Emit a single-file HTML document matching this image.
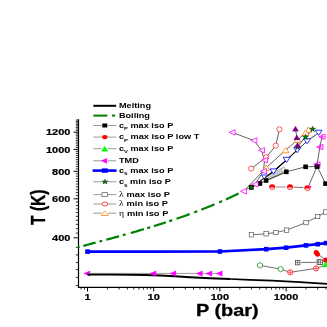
<!DOCTYPE html>
<html><head><meta charset="utf-8"><title>Phase diagram</title>
<style>
html,body{margin:0;padding:0;background:#fff;}
body{width:327px;height:327px;overflow:hidden;}
svg{display:block;will-change:transform;font-family:"Liberation Sans",sans-serif;}
</style></head><body>
<svg width="327" height="327" viewBox="0 0 327 327">
<rect x="0" y="0" width="327" height="327" fill="#fff"/>
<line x1="78.5" y1="119.2" x2="78.5" y2="288.0" stroke="#000" stroke-width="1.2"/>
<line x1="77.9" y1="287.4" x2="327" y2="287.4" stroke="#000" stroke-width="1.2"/>
<line x1="73.60" y1="237.80" x2="78.5" y2="237.80" stroke="#000" stroke-width="1.0"/>
<line x1="75.80" y1="233.11" x2="78.5" y2="233.11" stroke="#000" stroke-width="0.8"/>
<line x1="75.80" y1="228.63" x2="78.5" y2="228.63" stroke="#000" stroke-width="0.8"/>
<line x1="75.80" y1="224.36" x2="78.5" y2="224.36" stroke="#000" stroke-width="0.8"/>
<line x1="75.80" y1="220.26" x2="78.5" y2="220.26" stroke="#000" stroke-width="0.8"/>
<line x1="75.80" y1="216.34" x2="78.5" y2="216.34" stroke="#000" stroke-width="0.8"/>
<line x1="75.80" y1="212.56" x2="78.5" y2="212.56" stroke="#000" stroke-width="0.8"/>
<line x1="75.80" y1="208.93" x2="78.5" y2="208.93" stroke="#000" stroke-width="0.8"/>
<line x1="75.80" y1="205.44" x2="78.5" y2="205.44" stroke="#000" stroke-width="0.8"/>
<line x1="75.80" y1="202.06" x2="78.5" y2="202.06" stroke="#000" stroke-width="0.8"/>
<line x1="73.60" y1="198.80" x2="78.5" y2="198.80" stroke="#000" stroke-width="1.0"/>
<line x1="75.80" y1="195.67" x2="78.5" y2="195.67" stroke="#000" stroke-width="0.8"/>
<line x1="75.80" y1="192.63" x2="78.5" y2="192.63" stroke="#000" stroke-width="0.8"/>
<line x1="75.80" y1="189.69" x2="78.5" y2="189.69" stroke="#000" stroke-width="0.8"/>
<line x1="75.80" y1="186.84" x2="78.5" y2="186.84" stroke="#000" stroke-width="0.8"/>
<line x1="75.80" y1="184.06" x2="78.5" y2="184.06" stroke="#000" stroke-width="0.8"/>
<line x1="75.80" y1="181.37" x2="78.5" y2="181.37" stroke="#000" stroke-width="0.8"/>
<line x1="75.80" y1="178.75" x2="78.5" y2="178.75" stroke="#000" stroke-width="0.8"/>
<line x1="75.80" y1="176.20" x2="78.5" y2="176.20" stroke="#000" stroke-width="0.8"/>
<line x1="75.80" y1="173.72" x2="78.5" y2="173.72" stroke="#000" stroke-width="0.8"/>
<line x1="73.60" y1="171.30" x2="78.5" y2="171.30" stroke="#000" stroke-width="1.0"/>
<line x1="75.80" y1="168.88" x2="78.5" y2="168.88" stroke="#000" stroke-width="0.8"/>
<line x1="75.80" y1="166.51" x2="78.5" y2="166.51" stroke="#000" stroke-width="0.8"/>
<line x1="75.80" y1="164.20" x2="78.5" y2="164.20" stroke="#000" stroke-width="0.8"/>
<line x1="75.80" y1="161.95" x2="78.5" y2="161.95" stroke="#000" stroke-width="0.8"/>
<line x1="75.80" y1="159.74" x2="78.5" y2="159.74" stroke="#000" stroke-width="0.8"/>
<line x1="75.80" y1="157.58" x2="78.5" y2="157.58" stroke="#000" stroke-width="0.8"/>
<line x1="75.80" y1="155.47" x2="78.5" y2="155.47" stroke="#000" stroke-width="0.8"/>
<line x1="75.80" y1="153.41" x2="78.5" y2="153.41" stroke="#000" stroke-width="0.8"/>
<line x1="75.80" y1="151.38" x2="78.5" y2="151.38" stroke="#000" stroke-width="0.8"/>
<line x1="73.60" y1="149.40" x2="78.5" y2="149.40" stroke="#000" stroke-width="1.0"/>
<line x1="75.80" y1="147.53" x2="78.5" y2="147.53" stroke="#000" stroke-width="0.8"/>
<line x1="75.80" y1="145.70" x2="78.5" y2="145.70" stroke="#000" stroke-width="0.8"/>
<line x1="75.80" y1="143.90" x2="78.5" y2="143.90" stroke="#000" stroke-width="0.8"/>
<line x1="75.80" y1="142.14" x2="78.5" y2="142.14" stroke="#000" stroke-width="0.8"/>
<line x1="75.80" y1="140.41" x2="78.5" y2="140.41" stroke="#000" stroke-width="0.8"/>
<line x1="75.80" y1="138.71" x2="78.5" y2="138.71" stroke="#000" stroke-width="0.8"/>
<line x1="75.80" y1="137.04" x2="78.5" y2="137.04" stroke="#000" stroke-width="0.8"/>
<line x1="75.80" y1="135.40" x2="78.5" y2="135.40" stroke="#000" stroke-width="0.8"/>
<line x1="75.80" y1="133.79" x2="78.5" y2="133.79" stroke="#000" stroke-width="0.8"/>
<line x1="73.60" y1="132.20" x2="78.5" y2="132.20" stroke="#000" stroke-width="1.0"/>
<line x1="75.80" y1="130.59" x2="78.5" y2="130.59" stroke="#000" stroke-width="0.8"/>
<line x1="75.80" y1="129.01" x2="78.5" y2="129.01" stroke="#000" stroke-width="0.8"/>
<line x1="75.80" y1="127.45" x2="78.5" y2="127.45" stroke="#000" stroke-width="0.8"/>
<line x1="75.80" y1="125.92" x2="78.5" y2="125.92" stroke="#000" stroke-width="0.8"/>
<line x1="75.80" y1="124.41" x2="78.5" y2="124.41" stroke="#000" stroke-width="0.8"/>
<line x1="75.80" y1="122.93" x2="78.5" y2="122.93" stroke="#000" stroke-width="0.8"/>
<line x1="75.80" y1="121.46" x2="78.5" y2="121.46" stroke="#000" stroke-width="0.8"/>
<line x1="75.80" y1="120.02" x2="78.5" y2="120.02" stroke="#000" stroke-width="0.8"/>
<line x1="75.80" y1="247.30" x2="78.5" y2="247.30" stroke="#000" stroke-width="0.8"/>
<line x1="75.80" y1="254.90" x2="78.5" y2="254.90" stroke="#000" stroke-width="0.8"/>
<line x1="75.80" y1="262.50" x2="78.5" y2="262.50" stroke="#000" stroke-width="0.8"/>
<line x1="75.80" y1="269.60" x2="78.5" y2="269.60" stroke="#000" stroke-width="0.8"/>
<line x1="75.80" y1="277.30" x2="78.5" y2="277.30" stroke="#000" stroke-width="0.8"/>
<line x1="75.80" y1="285.60" x2="78.5" y2="285.60" stroke="#000" stroke-width="0.8"/>
<line x1="87.50" y1="287.4" x2="87.50" y2="291.40" stroke="#000" stroke-width="1.0"/>
<line x1="107.43" y1="287.4" x2="107.43" y2="289.60" stroke="#000" stroke-width="0.8"/>
<line x1="119.09" y1="287.4" x2="119.09" y2="289.60" stroke="#000" stroke-width="0.8"/>
<line x1="127.36" y1="287.4" x2="127.36" y2="289.60" stroke="#000" stroke-width="0.8"/>
<line x1="133.77" y1="287.4" x2="133.77" y2="289.60" stroke="#000" stroke-width="0.8"/>
<line x1="139.01" y1="287.4" x2="139.01" y2="289.60" stroke="#000" stroke-width="0.8"/>
<line x1="143.45" y1="287.4" x2="143.45" y2="289.60" stroke="#000" stroke-width="0.8"/>
<line x1="147.28" y1="287.4" x2="147.28" y2="289.60" stroke="#000" stroke-width="0.8"/>
<line x1="150.67" y1="287.4" x2="150.67" y2="289.60" stroke="#000" stroke-width="0.8"/>
<line x1="153.70" y1="287.4" x2="153.70" y2="291.40" stroke="#000" stroke-width="1.0"/>
<line x1="173.63" y1="287.4" x2="173.63" y2="289.60" stroke="#000" stroke-width="0.8"/>
<line x1="185.29" y1="287.4" x2="185.29" y2="289.60" stroke="#000" stroke-width="0.8"/>
<line x1="193.56" y1="287.4" x2="193.56" y2="289.60" stroke="#000" stroke-width="0.8"/>
<line x1="199.97" y1="287.4" x2="199.97" y2="289.60" stroke="#000" stroke-width="0.8"/>
<line x1="205.21" y1="287.4" x2="205.21" y2="289.60" stroke="#000" stroke-width="0.8"/>
<line x1="209.65" y1="287.4" x2="209.65" y2="289.60" stroke="#000" stroke-width="0.8"/>
<line x1="213.48" y1="287.4" x2="213.48" y2="289.60" stroke="#000" stroke-width="0.8"/>
<line x1="216.87" y1="287.4" x2="216.87" y2="289.60" stroke="#000" stroke-width="0.8"/>
<line x1="219.90" y1="287.4" x2="219.90" y2="291.40" stroke="#000" stroke-width="1.0"/>
<line x1="239.83" y1="287.4" x2="239.83" y2="289.60" stroke="#000" stroke-width="0.8"/>
<line x1="251.49" y1="287.4" x2="251.49" y2="289.60" stroke="#000" stroke-width="0.8"/>
<line x1="259.76" y1="287.4" x2="259.76" y2="289.60" stroke="#000" stroke-width="0.8"/>
<line x1="266.17" y1="287.4" x2="266.17" y2="289.60" stroke="#000" stroke-width="0.8"/>
<line x1="271.41" y1="287.4" x2="271.41" y2="289.60" stroke="#000" stroke-width="0.8"/>
<line x1="275.85" y1="287.4" x2="275.85" y2="289.60" stroke="#000" stroke-width="0.8"/>
<line x1="279.68" y1="287.4" x2="279.68" y2="289.60" stroke="#000" stroke-width="0.8"/>
<line x1="283.07" y1="287.4" x2="283.07" y2="289.60" stroke="#000" stroke-width="0.8"/>
<line x1="286.10" y1="287.4" x2="286.10" y2="291.40" stroke="#000" stroke-width="1.0"/>
<line x1="306.03" y1="287.4" x2="306.03" y2="289.60" stroke="#000" stroke-width="0.8"/>
<line x1="317.69" y1="287.4" x2="317.69" y2="289.60" stroke="#000" stroke-width="0.8"/>
<line x1="325.96" y1="287.4" x2="325.96" y2="289.60" stroke="#000" stroke-width="0.8"/>
<line x1="81.08" y1="287.4" x2="81.08" y2="289.60" stroke="#000" stroke-width="0.8"/>
<line x1="84.47" y1="287.4" x2="84.47" y2="289.60" stroke="#000" stroke-width="0.8"/>
<text transform="translate(70.40,241.00) scale(1.225,1)" font-size="9.0" font-weight="bold" text-anchor="end" fill="#000" stroke="#000" stroke-width="0.2">400</text>
<text transform="translate(70.40,202.00) scale(1.225,1)" font-size="9.0" font-weight="bold" text-anchor="end" fill="#000" stroke="#000" stroke-width="0.2">600</text>
<text transform="translate(70.40,174.50) scale(1.225,1)" font-size="9.0" font-weight="bold" text-anchor="end" fill="#000" stroke="#000" stroke-width="0.2">800</text>
<text transform="translate(70.40,152.60) scale(1.225,1)" font-size="9.0" font-weight="bold" text-anchor="end" fill="#000" stroke="#000" stroke-width="0.2">1000</text>
<text transform="translate(70.40,135.40) scale(1.225,1)" font-size="9.0" font-weight="bold" text-anchor="end" fill="#000" stroke="#000" stroke-width="0.2">1200</text>
<text transform="translate(87.50,300.10) scale(1.225,1)" font-size="9.0" font-weight="bold" text-anchor="middle" fill="#000" stroke="#000" stroke-width="0.2">1</text>
<text transform="translate(153.70,300.10) scale(1.225,1)" font-size="9.0" font-weight="bold" text-anchor="middle" fill="#000" stroke="#000" stroke-width="0.2">10</text>
<text transform="translate(219.90,300.10) scale(1.225,1)" font-size="9.0" font-weight="bold" text-anchor="middle" fill="#000" stroke="#000" stroke-width="0.2">100</text>
<text transform="translate(286.10,300.10) scale(1.225,1)" font-size="9.0" font-weight="bold" text-anchor="middle" fill="#000" stroke="#000" stroke-width="0.2">1000</text>
<text transform="translate(227.30,316.00) scale(1.245,1)" font-size="16.0" font-weight="bold" text-anchor="middle" fill="#000" stroke="#000" stroke-width="0.3">P (bar)</text>
<text transform="translate(44.6,207.2) rotate(-90) scale(1,1.3)" font-size="15.6" font-weight="bold" text-anchor="middle" fill="#000" stroke="#000" stroke-width="0.3">T (K)</text>
<line x1="93.4" y1="105.8" x2="116.2" y2="105.8" stroke="#000" stroke-width="2"/>
<text transform="translate(118.90,108.30) scale(1.33,1)" font-size="6.9" font-weight="bold" text-anchor="start" fill="#000" >Melting</text>
<line x1="93.4" y1="115.6" x2="107.4" y2="115.6" stroke="#008000" stroke-width="2"/>
<line x1="112.0" y1="115.6" x2="115.2" y2="115.6" stroke="#008000" stroke-width="2"/>
<text transform="translate(118.90,118.10) scale(1.33,1)" font-size="6.9" font-weight="bold" text-anchor="start" fill="#000" >Boiling</text>
<path d="M93.4,125.5H101.7M107.89999999999999,125.5H116.2" stroke="#808080" stroke-width="0.8" fill="none"/>
<rect x="102.30" y="123.50" width="5.0" height="4.0" fill="#000" stroke="none" stroke-width="0.7"/>
<text transform="translate(118.90,127.80) scale(1.33,1)" font-size="6.9" font-weight="bold" text-anchor="start" fill="#000" >c<tspan font-size="4.4" dy="2.4">P</tspan><tspan dy="-2.4"> max iso P</tspan></text>
<path d="M93.4,137.1H101.7M107.89999999999999,137.1H116.2" stroke="#808080" stroke-width="0.8" fill="none"/>
<ellipse cx="104.80" cy="137.10" rx="2.8" ry="2.15" fill="#f00" stroke="none" stroke-width="0.7"/>
<text transform="translate(118.90,139.40) scale(1.33665,1)" font-size="6.9" font-weight="bold" text-anchor="start" fill="#000" >c<tspan font-size="4.4" dy="2.4">P</tspan><tspan dy="-2.4"> max iso P low T</tspan></text>
<path d="M93.4,148.7H101.7M107.89999999999999,148.7H116.2" stroke="#808080" stroke-width="0.8" fill="none"/>
<polygon points="104.80,146.20 101.50,151.20 108.10,151.20" fill="#00ff00" stroke="#00ff00" stroke-width="0.3"/>
<text transform="translate(118.90,151.00) scale(1.33,1)" font-size="6.9" font-weight="bold" text-anchor="start" fill="#000" >c<tspan font-size="4.4" dy="2.4">V</tspan><tspan dy="-2.4"> max iso P</tspan></text>
<path d="M93.4,160.8H101.7M107.89999999999999,160.8H116.2" stroke="#808080" stroke-width="0.8" fill="none"/>
<polygon points="101.10,160.80 106.90,158.20 106.90,163.40" fill="#ff00ff" stroke="#ff00ff" stroke-width="0.3"/>
<text transform="translate(118.90,163.10) scale(1.33,1)" font-size="6.9" font-weight="bold" text-anchor="start" fill="#000" >TMD</text>
<line x1="92.60000000000001" y1="170.6" x2="116.60000000000001" y2="170.6" stroke="#0000ff" stroke-width="2.6"/>
<rect x="101.80" y="168.40" width="6.0" height="4.4" fill="#0000ff" stroke="none" stroke-width="0.7"/>
<text transform="translate(118.90,172.90) scale(1.3433000000000002,1)" font-size="6.9" font-weight="bold" text-anchor="start" fill="#000" >c<tspan font-size="4.8" dy="2.4">s</tspan><tspan dy="-2.4"> max iso P</tspan></text>
<path d="M93.4,181.8H101.7M107.89999999999999,181.8H116.2" stroke="#808080" stroke-width="0.8" fill="none"/>
<g transform="translate(105.0,181.8) scale(1.28,1)">
<polygon points="0.00,-2.70 0.67,-0.92 2.57,-0.83 1.08,0.35 1.59,2.18 0.00,1.13 -1.59,2.18 -1.08,0.35 -2.57,-0.83 -0.67,-0.92" fill="#008000" stroke="#000" stroke-width="0.3"/>
</g>
<text transform="translate(118.90,184.10) scale(1.33,1)" font-size="6.9" font-weight="bold" text-anchor="start" fill="#000" >c<tspan font-size="4.8" dy="2.4">s</tspan><tspan dy="-2.4"> min iso P</tspan></text>
<path d="M93.4,194.6H101.7M107.89999999999999,194.6H116.2" stroke="#808080" stroke-width="0.8" fill="none"/>
<rect x="102.00" y="192.70" width="5.6" height="3.8" fill="#fff" stroke="#505050" stroke-width="0.7"/>
<text transform="translate(118.90,197.00) scale(1.34995,1)" font-size="6.9" font-weight="bold" text-anchor="start" fill="#000" ><tspan font-family="Liberation Serif, serif" font-weight="normal" font-size="7.2">λ</tspan><tspan dx="0.3"> max iso P</tspan></text>
<path d="M93.4,204.0H101.7M107.89999999999999,204.0H116.2" stroke="#808080" stroke-width="0.8" fill="none"/>
<ellipse cx="104.90" cy="204.00" rx="2.9" ry="1.95" fill="#fff" stroke="#ff0000" stroke-width="0.7"/>
<text transform="translate(118.90,206.40) scale(1.34995,1)" font-size="6.9" font-weight="bold" text-anchor="start" fill="#000" ><tspan font-family="Liberation Serif, serif" font-weight="normal" font-size="7.2">λ</tspan><tspan dx="0.3"> min iso P</tspan></text>
<path d="M93.4,213.2H101.7M107.89999999999999,213.2H116.2" stroke="#808080" stroke-width="0.8" fill="none"/>
<polygon points="104.80,210.90 101.20,215.50 108.40,215.50" fill="#fff" stroke="#ff8000" stroke-width="0.7"/>
<text transform="translate(118.90,215.60) scale(1.34995,1)" font-size="6.9" font-weight="bold" text-anchor="start" fill="#000" ><tspan font-family="Liberation Serif, serif" font-weight="normal" font-size="7.2">η</tspan><tspan dx="0.3"> min iso P</tspan></text>
<polyline points="83.30,245.86 85.35,245.32 87.40,244.78 89.45,244.23 91.50,243.68 93.55,243.14 95.60,242.59" fill="none" stroke="#008000" stroke-width="2.2" />
<polyline points="106.30,239.72 108.43,239.15 110.57,238.57 112.70,237.99 114.83,237.41 116.97,236.82 119.10,236.23" fill="none" stroke="#008000" stroke-width="2.2" />
<polyline points="130.80,232.95 132.98,232.33 135.17,231.70 137.35,231.07 139.53,230.43 141.72,229.79 143.90,229.14" fill="none" stroke="#008000" stroke-width="2.2" />
<polyline points="153.90,226.11 155.90,225.49 157.90,224.86 159.90,224.23 161.90,223.59 163.90,222.95 165.90,222.30" fill="none" stroke="#008000" stroke-width="2.2" />
<polyline points="176.50,218.76 178.70,218.01 180.90,217.24 183.10,216.47 185.30,215.68 187.50,214.89 189.70,214.09" fill="none" stroke="#008000" stroke-width="2.2" />
<polyline points="201.30,209.71 203.50,208.85 205.70,207.98 207.90,207.09 210.10,206.20 212.30,205.29 214.50,204.38" fill="none" stroke="#008000" stroke-width="2.2" />
<polyline points="226.00,199.39 228.10,198.45 230.20,197.49 232.30,196.52 234.40,195.54 236.50,194.54 238.60,193.54" fill="none" stroke="#008000" stroke-width="2.2" />
<polyline points="78.20,247.22 78.43,247.16 78.67,247.10 78.90,247.03 79.13,246.97 79.37,246.91 79.60,246.85" fill="none" stroke="#008000" stroke-width="2.2" />
<polyline points="99.50,241.55 99.97,241.43 100.43,241.30 100.90,241.18 101.37,241.05 101.83,240.93 102.30,240.80" fill="none" stroke="#008000" stroke-width="2.2" />
<polyline points="122.80,235.20 123.27,235.07 123.73,234.94 124.20,234.81 124.67,234.68 125.13,234.55 125.60,234.42" fill="none" stroke="#008000" stroke-width="2.2" />
<polyline points="147.20,228.15 147.70,228.00 148.20,227.85 148.70,227.70 149.20,227.55 149.70,227.40 150.20,227.24" fill="none" stroke="#008000" stroke-width="2.2" />
<polyline points="169.20,221.22 169.72,221.05 170.23,220.88 170.75,220.71 171.27,220.53 171.78,220.36 172.30,220.19" fill="none" stroke="#008000" stroke-width="2.2" />
<polyline points="194.20,212.43 194.73,212.23 195.27,212.02 195.80,211.82 196.33,211.62 196.87,211.42 197.40,211.22" fill="none" stroke="#008000" stroke-width="2.2" />
<polyline points="219.20,202.38 219.68,202.17 220.17,201.96 220.65,201.75 221.13,201.54 221.62,201.33 222.10,201.12" fill="none" stroke="#008000" stroke-width="2.2" />
<polygon points="83.85,273.50 89.95,270.80 89.95,276.20" fill="#ff00ff" stroke="#ff00ff" stroke-width="0.3"/>
<polyline points="87.50,274.50 110.00,274.50 130.00,274.70 145.00,275.00 160.00,275.50 175.00,276.20 190.00,277.20" fill="none" stroke="#000" stroke-width="2.1" />
<polyline points="190.00,277.20 210.00,278.20 230.00,279.00" fill="none" stroke="#000" stroke-width="1.9" />
<polyline points="230.00,279.00 250.00,279.80 272.00,280.60 300.00,282.20 327.00,283.80" fill="none" stroke="#000" stroke-width="1.75" />
<polyline points="87.50,273.40 153.70,273.40 173.60,273.40 200.00,273.40 209.60,273.40 219.90,273.40" fill="none" stroke="#707070" stroke-width="0.7" />
<polygon points="149.95,273.60 156.05,270.85 156.05,276.35" fill="#ff00ff" stroke="#ff00ff" stroke-width="0.3"/>
<polygon points="169.85,273.60 175.95,270.85 175.95,276.35" fill="#ff00ff" stroke="#ff00ff" stroke-width="0.3"/>
<polygon points="196.25,273.60 202.35,270.85 202.35,276.35" fill="#ff00ff" stroke="#ff00ff" stroke-width="0.3"/>
<polygon points="205.85,273.60 211.95,270.85 211.95,276.35" fill="#ff00ff" stroke="#ff00ff" stroke-width="0.3"/>
<polygon points="216.15,273.60 222.25,270.85 222.25,276.35" fill="#ff00ff" stroke="#ff00ff" stroke-width="0.3"/>
<polyline points="87.50,251.60 153.70,251.60 219.90,251.50 266.20,249.20 286.10,247.70 306.00,245.40 317.70,244.20 326.00,243.10 330.00,242.60" fill="none" stroke="#0000ff" stroke-width="2.7" />
<rect x="85.20" y="249.30" width="4.6" height="4.6" fill="#0000ff" stroke="none" stroke-width="0.8"/>
<rect x="217.60" y="249.20" width="4.6" height="4.6" fill="#0000ff" stroke="none" stroke-width="0.8"/>
<rect x="263.90" y="246.90" width="4.6" height="4.6" fill="#0000ff" stroke="none" stroke-width="0.8"/>
<rect x="283.80" y="245.40" width="4.6" height="4.6" fill="#0000ff" stroke="none" stroke-width="0.8"/>
<rect x="303.70" y="243.10" width="4.6" height="4.6" fill="#0000ff" stroke="none" stroke-width="0.8"/>
<rect x="315.40" y="241.90" width="4.6" height="4.6" fill="#0000ff" stroke="none" stroke-width="0.8"/>
<rect x="323.70" y="240.80" width="4.6" height="4.6" fill="#0000ff" stroke="none" stroke-width="0.8"/>
<polyline points="251.40,234.80 266.10,233.80 275.90,232.50 286.60,230.10 306.00,222.60 317.70,216.50 325.70,212.00" fill="none" stroke="#303030" stroke-width="0.7" />
<rect x="249.20" y="232.60" width="4.4" height="4.4" fill="#fff" stroke="#404040" stroke-width="0.6"/>
<rect x="263.90" y="231.60" width="4.4" height="4.4" fill="#fff" stroke="#404040" stroke-width="0.6"/>
<rect x="273.70" y="230.30" width="4.4" height="4.4" fill="#fff" stroke="#404040" stroke-width="0.6"/>
<rect x="284.40" y="227.90" width="4.4" height="4.4" fill="#fff" stroke="#404040" stroke-width="0.6"/>
<rect x="303.80" y="220.40" width="4.4" height="4.4" fill="#fff" stroke="#404040" stroke-width="0.6"/>
<rect x="315.50" y="214.30" width="4.4" height="4.4" fill="#fff" stroke="#404040" stroke-width="0.6"/>
<rect x="323.50" y="209.80" width="4.4" height="4.4" fill="#fff" stroke="#404040" stroke-width="0.6"/>
<polyline points="260.00,265.40 280.50,269.10 290.20,272.30 316.10,268.40 325.80,264.90" fill="none" stroke="#303030" stroke-width="0.7" />
<polyline points="301.20,262.50 316.00,262.30" fill="none" stroke="#303030" stroke-width="0.7" />
<polyline points="316.80,253.20 325.80,260.20" fill="none" stroke="#303030" stroke-width="0.7" />
<polygon points="262.42,266.80 260.00,268.20 257.58,266.80 257.58,264.00 260.00,262.60 262.42,264.00" fill="#fff" stroke="#008000" stroke-width="0.7"/>
<polygon points="283.02,270.50 280.60,271.90 278.18,270.50 278.18,267.70 280.60,266.30 283.02,267.70" fill="#fff" stroke="#008000" stroke-width="0.7"/>
<circle cx="290.20" cy="272.30" r="2.6" fill="#fff" stroke="#ff0000" stroke-width="0.7"/>
<path d="M287.60,272.30H292.80M290.20,269.70V274.90" stroke="#ff0000" stroke-width="0.6" fill="none"/>
<circle cx="316.10" cy="268.40" r="2.6" fill="#fff" stroke="#ff0000" stroke-width="0.7"/>
<path d="M313.50,268.40H318.70M316.10,265.80V271.00" stroke="#ff0000" stroke-width="0.6" fill="none"/>
<rect x="295.40" y="260.30" width="4.6" height="4.6" fill="#fff" stroke="#202020" stroke-width="0.6"/>
<path d="M295.40,262.60H300.00M297.70,260.30V264.90" stroke="#202020" stroke-width="0.5" fill="none"/>
<rect x="317.00" y="259.90" width="4.6" height="4.6" fill="#fff" stroke="#202020" stroke-width="0.6"/>
<path d="M317.00,262.20H321.60M319.30,259.90V264.50" stroke="#202020" stroke-width="0.5" fill="none"/>
<rect x="318.10" y="259.90" width="4.6" height="4.6" fill="#fff" stroke="#202020" stroke-width="0.6"/>
<path d="M318.10,262.20H322.70M320.40,259.90V264.50" stroke="#202020" stroke-width="0.5" fill="none"/>
<circle cx="316.20" cy="252.60" r="2.5" fill="#f00" stroke="none" stroke-width="0.8"/>
<circle cx="317.50" cy="254.20" r="2.5" fill="#f00" stroke="none" stroke-width="0.8"/>
<circle cx="325.80" cy="260.20" r="2.6" fill="#f00" stroke="none" stroke-width="0.8"/>
<polygon points="325.80,261.50 322.30,266.90 329.30,266.90" fill="#00ff00" stroke="#00ff00" stroke-width="0.3"/>
<polyline points="251.30,187.40 259.90,183.50 266.10,180.50 286.30,171.80 305.60,166.80 317.10,166.40 325.50,183.60" fill="none" stroke="#202020" stroke-width="0.7" />
<polyline points="276.00,187.00 285.80,187.00" fill="none" stroke="#9a9a9a" stroke-width="1.1" />
<polyline points="293.50,187.10 303.20,187.50" fill="none" stroke="#303030" stroke-width="0.7" />
<polyline points="309.00,185.20 317.10,166.40" fill="none" stroke="#202020" stroke-width="0.7" />
<polyline points="317.10,164.60 319.90,147.00 322.00,136.70" fill="none" stroke="#202020" stroke-width="0.7" />
<polyline points="232.10,132.40 253.90,140.50 261.50,150.30 264.60,160.20 263.40,171.20 255.00,184.30 243.50,191.30" fill="none" stroke="#202020" stroke-width="0.7" />
<polyline points="279.40,129.30 275.80,145.60 266.20,157.30 251.20,168.60" fill="none" stroke="#202020" stroke-width="0.7" />
<polyline points="308.50,129.60 305.50,132.80 297.50,139.90 285.60,150.20 266.20,167.70 243.40,191.50" fill="none" stroke="#202020" stroke-width="0.7" />
<polyline points="318.60,132.80 307.10,141.20 297.20,150.20" fill="none" stroke="#101010" stroke-width="0.8" />
<polyline points="297.20,150.20 286.60,159.90 273.50,171.50 265.00,177.60 251.30,187.40" fill="none" stroke="#000" stroke-width="1.05" />
<polyline points="312.60,129.20 305.50,137.10 297.50,146.30 297.20,150.20" fill="none" stroke="#101010" stroke-width="0.8" />
<polyline points="295.50,128.70 296.80,137.30 297.50,145.00" fill="none" stroke="#202020" stroke-width="0.7" />
<polygon points="265.00,180.20 261.50,175.00 268.50,175.00" fill="#fff" stroke="#0000ff" stroke-width="0.8"/>
<polygon points="268.00,174.70 264.80,179.30 271.20,179.30" fill="#fff" stroke="#8c8c8c" stroke-width="0.55"/>
<polygon points="269.78,173.80 266.58,178.40 272.98,178.40" fill="#fff" stroke="#8c8c8c" stroke-width="0.55"/>
<polygon points="271.56,172.90 268.36,177.50 274.76,177.50" fill="#fff" stroke="#8c8c8c" stroke-width="0.55"/>
<polygon points="273.33,172.00 270.13,176.60 276.53,176.60" fill="#fff" stroke="#8c8c8c" stroke-width="0.55"/>
<polygon points="275.11,171.10 271.91,175.70 278.31,175.70" fill="#fff" stroke="#8c8c8c" stroke-width="0.55"/>
<polygon points="276.89,170.20 273.69,174.80 280.09,174.80" fill="#fff" stroke="#8c8c8c" stroke-width="0.55"/>
<polygon points="278.67,169.30 275.47,173.90 281.87,173.90" fill="#fff" stroke="#8c8c8c" stroke-width="0.55"/>
<polygon points="280.44,168.40 277.24,173.00 283.64,173.00" fill="#fff" stroke="#8c8c8c" stroke-width="0.55"/>
<polygon points="282.22,167.50 279.02,172.10 285.42,172.10" fill="#fff" stroke="#8c8c8c" stroke-width="0.55"/>
<polygon points="284.00,166.60 280.80,171.20 287.20,171.20" fill="#fff" stroke="#8c8c8c" stroke-width="0.55"/>
<polyline points="266.10,180.50 286.30,171.80" fill="none" stroke="#202020" stroke-width="0.7" />
<polyline points="286.60,159.90 273.50,171.50 265.00,177.60" fill="none" stroke="#000" stroke-width="1.05" />
<rect x="249.00" y="185.10" width="4.6" height="4.6" fill="#000" stroke="none" stroke-width="0.8"/>
<rect x="257.60" y="181.20" width="4.6" height="4.6" fill="#000" stroke="none" stroke-width="0.8"/>
<rect x="263.80" y="178.20" width="4.6" height="4.6" fill="#000" stroke="none" stroke-width="0.8"/>
<rect x="284.00" y="169.50" width="4.6" height="4.6" fill="#000" stroke="none" stroke-width="0.8"/>
<rect x="303.30" y="164.50" width="4.6" height="4.6" fill="#000" stroke="none" stroke-width="0.8"/>
<rect x="314.80" y="164.10" width="4.6" height="4.6" fill="#000" stroke="none" stroke-width="0.8"/>
<rect x="323.20" y="181.30" width="4.6" height="4.6" fill="#000" stroke="none" stroke-width="0.8"/>
<ellipse cx="272.20" cy="187.00" rx="2.75" ry="2.45" fill="#fff" stroke="#ff0000" stroke-width="0.8"/>
<path d="M269.30,187.45A2.9,2.75 0 0 1 275.10,187.45Z" fill="#ff0000"/>
<ellipse cx="290.00" cy="187.00" rx="2.75" ry="2.45" fill="#fff" stroke="#ff0000" stroke-width="0.8"/>
<path d="M287.10,187.45A2.9,2.75 0 0 1 292.90,187.45Z" fill="#ff0000"/>
<ellipse cx="307.40" cy="188.00" rx="2.75" ry="2.45" fill="#fff" stroke="#ff0000" stroke-width="0.8"/>
<path d="M304.50,188.45A2.9,2.75 0 0 1 310.30,188.45Z" fill="#ff0000"/>
<path d="M308.6,186.6H311.4M310.0,185.2V188.0" stroke="#ff00ff" stroke-width="0.9" fill="none"/>
<circle cx="279.40" cy="129.30" r="2.6" fill="#fff" stroke="#ff3030" stroke-width="0.8"/>
<circle cx="275.80" cy="145.60" r="2.6" fill="#fff" stroke="#ff3030" stroke-width="0.8"/>
<circle cx="266.20" cy="157.30" r="2.6" fill="#fff" stroke="#ff3030" stroke-width="0.8"/>
<circle cx="251.20" cy="168.60" r="2.6" fill="#fff" stroke="#ff3030" stroke-width="0.8"/>
<polygon points="308.50,127.00 305.00,132.20 312.00,132.20" fill="#fff" stroke="#ff8000" stroke-width="0.8"/>
<polygon points="305.50,130.20 302.00,135.40 309.00,135.40" fill="#fff" stroke="#ff8000" stroke-width="0.8"/>
<polygon points="297.50,137.30 294.00,142.50 301.00,142.50" fill="#fff" stroke="#ff8000" stroke-width="0.8"/>
<polygon points="285.60,147.60 282.10,152.80 289.10,152.80" fill="#fff" stroke="#ff8000" stroke-width="0.8"/>
<polygon points="266.20,165.10 262.70,170.30 269.70,170.30" fill="#fff" stroke="#ff8000" stroke-width="0.8"/>
<polygon points="318.60,135.40 315.10,130.20 322.10,130.20" fill="#fff" stroke="#0000ff" stroke-width="0.8"/>
<polygon points="307.10,143.80 303.60,138.60 310.60,138.60" fill="#fff" stroke="#0000ff" stroke-width="0.8"/>
<polygon points="297.20,152.80 293.70,147.60 300.70,147.60" fill="#fff" stroke="#0000ff" stroke-width="0.8"/>
<polygon points="286.60,162.50 283.10,157.30 290.10,157.30" fill="#fff" stroke="#0000ff" stroke-width="0.8"/>
<polygon points="273.50,174.10 270.00,168.90 277.00,168.90" fill="#fff" stroke="#0000ff" stroke-width="0.8"/>
<polygon points="312.60,126.00 313.39,128.11 315.64,128.21 313.88,129.62 314.48,131.79 312.60,130.54 310.72,131.79 311.32,129.62 309.56,128.21 311.81,128.11" fill="#008000" stroke="#000" stroke-width="0.3"/>
<polygon points="305.50,133.90 306.29,136.01 308.54,136.11 306.78,137.52 307.38,139.69 305.50,138.44 303.62,139.69 304.22,137.52 302.46,136.11 304.71,136.01" fill="#008000" stroke="#000" stroke-width="0.3"/>
<polygon points="297.50,144.00 298.29,146.11 300.54,146.21 298.78,147.62 299.38,149.79 297.50,148.54 295.62,149.79 296.22,147.62 294.46,146.21 296.71,146.11" fill="#008000" stroke="#000" stroke-width="0.3"/>
<polygon points="251.30,184.40 252.04,186.38 254.15,186.47 252.50,187.79 253.06,189.83 251.30,188.66 249.54,189.83 250.10,187.79 248.45,186.47 250.56,186.38" fill="#008000" stroke="#000" stroke-width="0.3"/>
<polygon points="295.50,126.10 292.30,131.30 298.70,131.30" fill="#800080" stroke="#800080" stroke-width="0.2"/>
<polygon points="296.80,134.70 293.60,139.90 300.00,139.90" fill="#800080" stroke="#800080" stroke-width="0.2"/>
<polygon points="297.50,142.40 294.30,147.60 300.70,147.60" fill="#800080" stroke="#800080" stroke-width="0.2"/>
<polygon points="229.05,132.40 235.15,129.70 235.15,135.10" fill="#fff" stroke="#ff00ff" stroke-width="0.8"/>
<polygon points="250.85,140.50 256.95,137.80 256.95,143.20" fill="#fff" stroke="#ff00ff" stroke-width="0.8"/>
<polygon points="258.45,150.30 264.55,147.60 264.55,153.00" fill="#fff" stroke="#ff00ff" stroke-width="0.8"/>
<polygon points="261.55,160.20 267.65,157.50 267.65,162.90" fill="#fff" stroke="#ff00ff" stroke-width="0.8"/>
<polygon points="260.35,171.20 266.45,168.50 266.45,173.90" fill="#fff" stroke="#ff00ff" stroke-width="0.8"/>
<polygon points="251.95,184.30 258.05,181.60 258.05,187.00" fill="#fff" stroke="#ff00ff" stroke-width="0.8"/>
<polygon points="240.45,191.30 246.55,188.60 246.55,194.00" fill="#fff" stroke="#ff00ff" stroke-width="0.8"/>
<polygon points="318.95,136.70 325.05,134.00 325.05,139.40" fill="none" stroke="#ff00ff" stroke-width="0.8"/>
<path d="M318.60,136.70H325.40M322.00,133.50V139.90" stroke="#ff00ff" stroke-width="0.6" fill="none"/>
<polygon points="316.85,147.00 322.95,144.30 322.95,149.70" fill="none" stroke="#ff00ff" stroke-width="0.8"/>
<path d="M316.50,147.00H323.30M319.90,143.80V150.20" stroke="#ff00ff" stroke-width="0.6" fill="none"/>
<polygon points="313.95,164.40 320.05,161.70 320.05,167.10" fill="none" stroke="#ff00ff" stroke-width="0.8"/>
<path d="M313.60,164.40H320.40M317.00,161.20V167.60" stroke="#ff00ff" stroke-width="0.6" fill="none"/>
<rect x="314.80" y="164.10" width="4.6" height="4.6" fill="#000" stroke="none" stroke-width="0.8"/>
<path d="M314.8,164.6H319.4M317.0,163.6V168.0" stroke="#a000a0" stroke-width="0.7" fill="none"/>
</svg>
</body></html>
